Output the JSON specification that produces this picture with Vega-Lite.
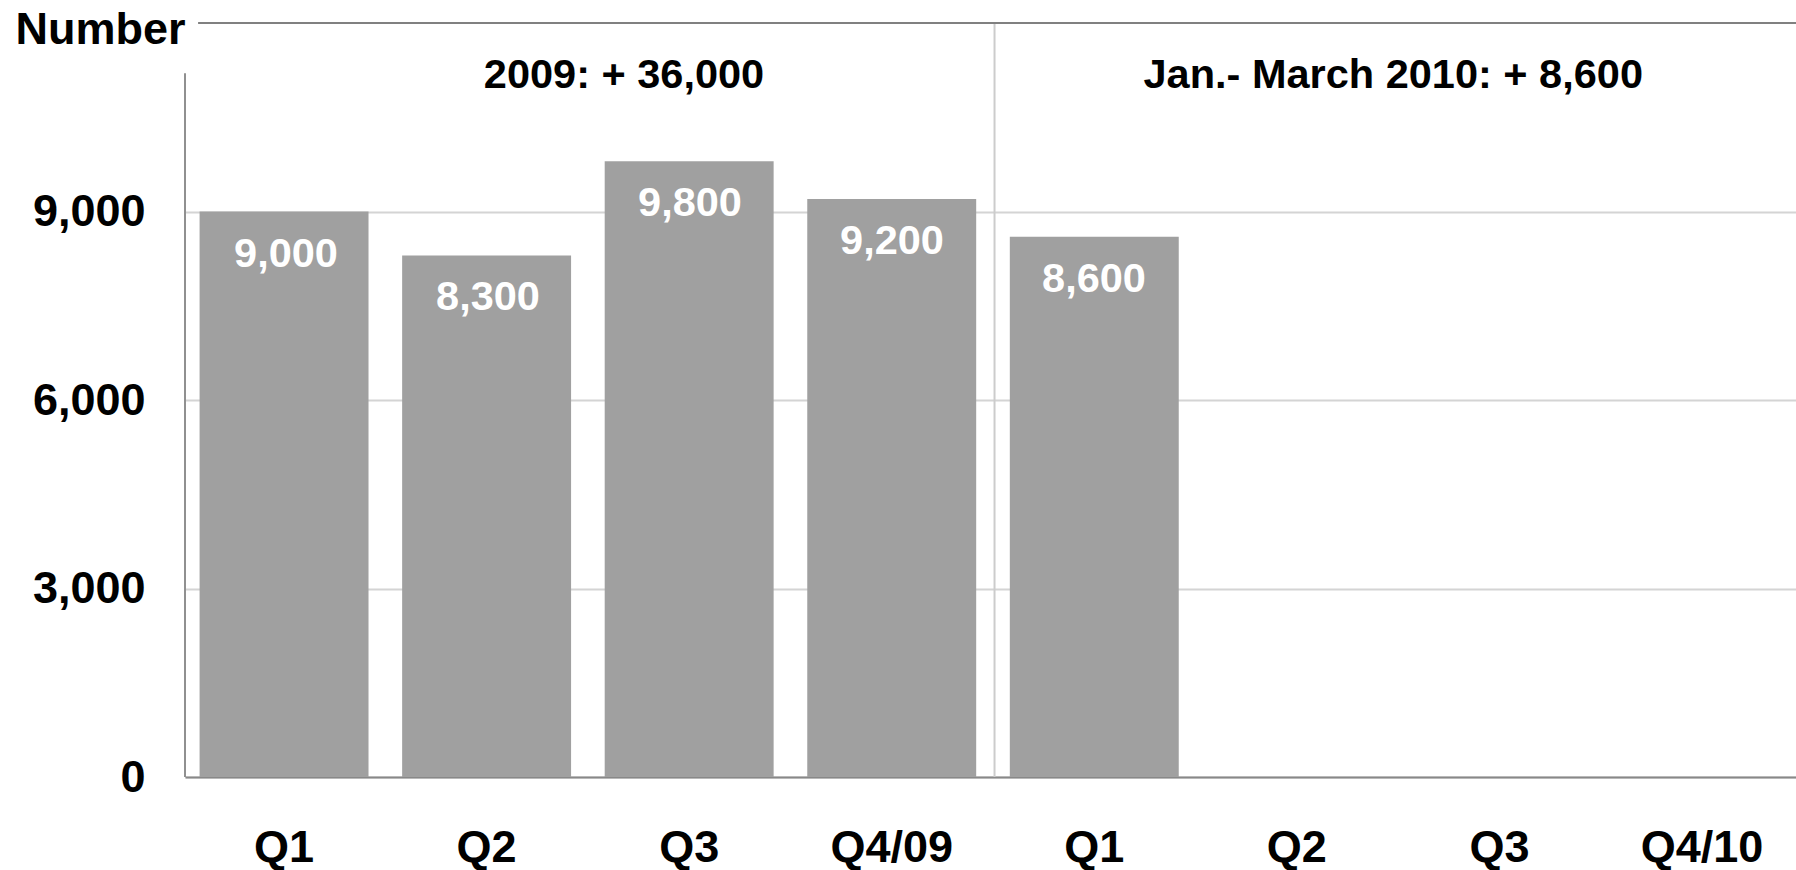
{
  "$schema": "https://vega.github.io/schema/vega-lite/v6.json",
  "width": 1611,
  "height": 754,
  "autosize": {"type": "none"},
  "padding": {"left": 185, "top": 23, "right": 0, "bottom": 93},
  "config": {
    "view": {"stroke": null},
    "font": "Liberation Sans"
  },
  "datasets": {
    "bars": [
      {"period": "Q1 2009", "value": 9000},
      {"period": "Q2 2009", "value": 8300},
      {"period": "Q3 2009", "value": 9800},
      {"period": "Q4/09", "value": 9200},
      {"period": "Q1 2010", "value": 8600},
      {"period": "Q2 2010", "value": null},
      {"period": "Q3 2010", "value": null},
      {"period": "Q4/10", "value": null}
    ],
    "notes": [
      {"x": 2.18, "y": 10960, "text": "2009: + 36,000"},
      {"x": 6.0, "y": 10960, "text": "Jan.- March 2010: + 8,600"}
    ],
    "vlines": [
      {"x": 4.02, "y": 0, "y2": 12000}
    ],
    "yaxisline": [
      {"x": 0, "y": 0, "y2": 11200}
    ],
    "topline": [
      {"x": 0.065, "x2": 8, "y": 12000}
    ]
  },
  "resolve": {"scale": {"x": "independent"}},
  "layer": [
    {
      "data": {"name": "bars"},
      "mark": {"type": "bar", "color": "#a0a0a0"},
      "encoding": {
        "x": {
          "field": "period",
          "type": "nominal",
          "sort": null,
          "scale": {
            "domain": ["Q1 2009", "Q2 2009", "Q3 2009", "Q4/09", "Q1 2010", "Q2 2010", "Q3 2010", "Q4/10"],
            "range": [0, 1616],
            "paddingInner": 0.166,
            "paddingOuter": 0.072
          },
          "axis": {
            "title": null,
            "labelExpr": "split(datum.label, ' ')[0]",
            "labelAngle": 0,
            "labelFont": "Liberation Sans",
            "labelFontSize": 45,
            "labelFontWeight": "bold",
            "labelColor": "#000000",
            "labelPadding": 48,
            "labelBound": false,
            "ticks": false,
            "domain": true,
            "domainColor": "#888888",
            "domainWidth": 2,
            "grid": false
          }
        },
        "y": {
          "field": "value",
          "type": "quantitative",
          "scale": {"domain": [0, 12000], "nice": false},
          "axis": {
            "title": "Number",
            "titleAngle": 0,
            "titleAlign": "left",
            "titleBaseline": "alphabetic",
            "titleX": -170,
            "titleY": 20,
            "titleFont": "Liberation Sans",
            "titleFontSize": 45,
            "titleFontWeight": "bold",
            "titleColor": "#000000",
            "values": [0, 3000, 6000, 9000],
            "format": ",.0f",
            "labelFont": "Liberation Sans",
            "labelFontSize": 45,
            "labelFontWeight": "bold",
            "labelColor": "#000000",
            "labelPadding": 40,
            "ticks": false,
            "domain": false,
            "grid": true,
            "gridColor": "#d4d4d4",
            "gridWidth": 2
          }
        }
      }
    },
    {
      "data": {"name": "bars"},
      "transform": [{"filter": "datum.value != null"}],
      "mark": {
        "type": "text",
        "color": "#ffffff",
        "font": "Liberation Sans",
        "fontSize": 41.5,
        "fontWeight": "bold",
        "baseline": "alphabetic",
        "align": "center",
        "dy": 55
      },
      "encoding": {
        "x": {
          "field": "period",
          "type": "nominal",
          "sort": null,
          "scale": {
            "domain": ["Q1 2009", "Q2 2009", "Q3 2009", "Q4/09", "Q1 2010", "Q2 2010", "Q3 2010", "Q4/10"],
            "range": [0, 1616],
            "paddingInner": 0.166,
            "paddingOuter": 0.072
          },
          "axis": null
        },
        "y": {"field": "value", "type": "quantitative"},
        "text": {"field": "value", "type": "quantitative", "format": ",.0f"}
      }
    },
    {
      "data": {"name": "vlines"},
      "mark": {"type": "rule", "color": "#cccccc", "strokeWidth": 2},
      "encoding": {
        "x": {"field": "x", "type": "quantitative", "scale": {"domain": [0, 8], "nice": false, "zero": false}, "axis": null},
        "y": {"field": "y", "type": "quantitative"},
        "y2": {"field": "y2"}
      }
    },
    {
      "data": {"name": "yaxisline"},
      "mark": {"type": "rule", "color": "#909090", "strokeWidth": 2},
      "encoding": {
        "x": {"field": "x", "type": "quantitative", "scale": {"domain": [0, 8], "nice": false, "zero": false}, "axis": null},
        "y": {"field": "y", "type": "quantitative"},
        "y2": {"field": "y2"}
      }
    },
    {
      "data": {"name": "topline"},
      "mark": {"type": "rule", "color": "#808080", "strokeWidth": 2},
      "encoding": {
        "x": {"field": "x", "type": "quantitative", "scale": {"domain": [0, 8], "nice": false, "zero": false}, "axis": null},
        "x2": {"field": "x2"},
        "y": {"field": "y", "type": "quantitative"}
      }
    },
    {
      "data": {"name": "notes"},
      "mark": {
        "type": "text",
        "color": "#000000",
        "font": "Liberation Sans",
        "fontSize": 41.5,
        "fontWeight": "bold",
        "baseline": "alphabetic",
        "align": "center"
      },
      "encoding": {
        "x": {"field": "x", "type": "quantitative", "scale": {"domain": [0, 8], "nice": false, "zero": false}, "axis": null},
        "y": {"field": "y", "type": "quantitative"},
        "text": {"field": "text", "type": "nominal"}
      }
    }
  ]
}
